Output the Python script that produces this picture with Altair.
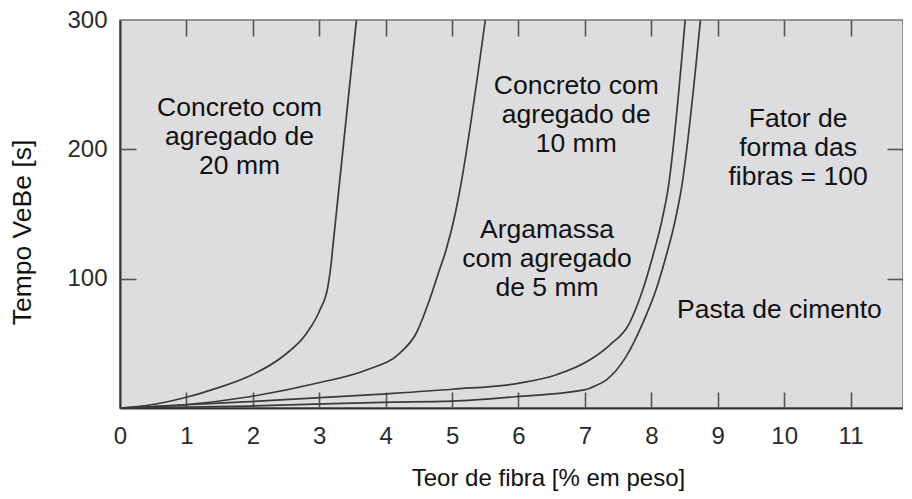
import altair as alt
import pandas as pd

# ---- data ----
# Concreto com agregado de 20 mm
a_x = [0, 0.45, 0.94, 1.45, 1.95, 2.46, 2.81, 3.01, 3.13, 3.18, 3.20, 3.56]
a_y = [0, 2.3, 7.5, 15.2, 24.7, 40.2, 57.8, 75.8, 93.8, 111.9, 122.2, 300]
# Concreto com agregado de 10 mm
b_x = [0, 0.94, 1.95, 2.96, 3.71, 4.21, 4.46, 4.66, 4.81, 4.91, 5.05, 5.11, 5.50]
b_y = [0, 2.3, 8.7, 19.1, 29.4, 42.3, 57.8, 83.5, 106.7, 122.2, 150.8, 166.3, 300]
# Argamassa com agregado de 5 mm
c_x = [0, 1.95, 3.95, 5.0, 6.0, 6.56, 7.07, 7.37, 7.67, 7.87, 8.02, 8.15, 8.25, 8.51]
c_y = [0, 4.9, 10.8, 14.5, 19.1, 25.5, 37.1, 48.5, 65.5, 91.2, 117.0, 142.8, 168.6, 300]
# Pasta de cimento
d_x = [0, 1.95, 3.95, 5.0, 5.95, 6.99, 7.15, 7.32, 7.62, 7.87, 8.07, 8.22, 8.35, 8.45, 8.74]
d_y = [0, 1.5, 4.4, 5.3, 8.7, 14.0, 17.0, 21.6, 39.7, 65.5, 91.2, 117.0, 142.8, 168.6, 300]

series_names = ["20 mm", "10 mm", "5 mm", "pasta"]

x_tick_values = list(range(0, 12))
x_inner_ticks = list(range(1, 12))
y_tick_values = [100, 200, 300]
y_inner_ticks = [100, 200]

label_texts = [
    "Concreto com\nagregado de\n20 mm",
    "Concreto com\nagregado de\n10 mm",
    "Fator de\nforma das\nfibras = 100",
    "Argamassa\ncom agregado\nde 5 mm",
    "Pasta de cimento",
]
label_x = [1.80, 6.87, 10.21, 6.43, 9.93]
label_y = [232, 249, 223.5, 137.6, 76]

X_MAX = 11.79
Y_MAX = 300
PLOT_W = 783
PLOT_H = 388
TICK_PX = 16
FONT = "Liberation Sans"

# ---- tables ----
rows = []
for name, xs, ys in zip(series_names, [a_x, b_x, c_x, d_x], [a_y, b_y, c_y, d_y]):
    for i, (xv, yv) in enumerate(zip(xs, ys)):
        rows.append({"serie": name, "ordem": i, "x": xv, "y": yv})
curves = pd.DataFrame(rows)

labels = pd.DataFrame({"t": label_texts, "x": label_x, "y": label_y})

xscale = alt.Scale(domain=[0, X_MAX], nice=False, zero=False)
yscale = alt.Scale(domain=[0, Y_MAX], nice=False, zero=False)

# main axes (labels + titles)
x_axis = alt.Axis(
    values=x_tick_values, ticks=False, grid=False, labelFlush=False, labelOverlap=False,
    labelFont=FONT, labelFontSize=24, labelColor="#2a2a2a", labelPadding=16,
    domainColor="#333333", domainWidth=2,
    title="Teor de fibra [% em peso]", titleFont=FONT, titleFontSize=24,
    titleFontWeight="normal", titleColor="#111111",
    titleX=428, titleY=77, titleBaseline="alphabetic", titleAlign="center", titleAnchor="start",
)
y_axis = alt.Axis(
    values=y_tick_values, ticks=False, grid=False, labelFlush=False, labelOverlap=False,
    labelFont=FONT, labelFontSize=24, labelColor="#2a2a2a", labelPadding=13,
    domainColor="#333333", domainWidth=2,
    title="Tempo VeBe [s]", titleFont=FONT, titleFontSize=26.5,
    titleFontWeight="normal", titleColor="#111111",
    titleX=-98, titleY=212, titleAngle=270, titleBaseline="middle", titleAlign="center",
    titleAnchor="start",
)

# tick-only axes moved inside the frame (inner ticks on all four sides)
def inner_axis(values, orient):
    return alt.Axis(
        values=values, orient=orient, offset=-TICK_PX, tickSize=TICK_PX,
        tickColor="#555555", tickWidth=1.6, ticks=True,
        labels=False, domain=False, grid=False, title="",
    )

lines = alt.Chart(curves).mark_line(
    interpolate="monotone", color="#3a3a3a", strokeWidth=1.7
).encode(
    x=alt.X("x:Q", scale=xscale, axis=x_axis),
    y=alt.Y("y:Q", scale=yscale, axis=y_axis),
    detail="serie:N",
    order="ordem:Q",
)

texts = alt.Chart(labels).mark_text(
    font=FONT, fontSize=26.5, lineBreak="\n", lineHeight=29,
    align="center", baseline="middle", color="#111111",
).encode(
    x=alt.X("x:Q", scale=xscale, axis=inner_axis(x_inner_ticks, "bottom")),
    y=alt.Y("y:Q", scale=yscale, axis=inner_axis(y_inner_ticks, "left")),
    text="t:N",
)

ghost = alt.Chart(labels).mark_point(opacity=0).encode(
    x=alt.X("x:Q", scale=xscale, axis=inner_axis(x_inner_ticks, "top")),
    y=alt.Y("y:Q", scale=yscale, axis=inner_axis(y_inner_ticks, "right")),
)

chart = (
    alt.layer(lines, texts, ghost)
    .resolve_axis(x="independent", y="independent")
    .properties(
        width=PLOT_W, height=PLOT_H,
        autosize=alt.AutoSizeParams(type="none"),
        padding={"left": 112, "top": 12, "right": 0, "bottom": 83},
        background="white",
    )
    .configure_view(fill="#dddddf", stroke="#777777", strokeWidth=1.5)
)

chart.save("out.html", embed_options={"renderer": "svg", "actions": False})
